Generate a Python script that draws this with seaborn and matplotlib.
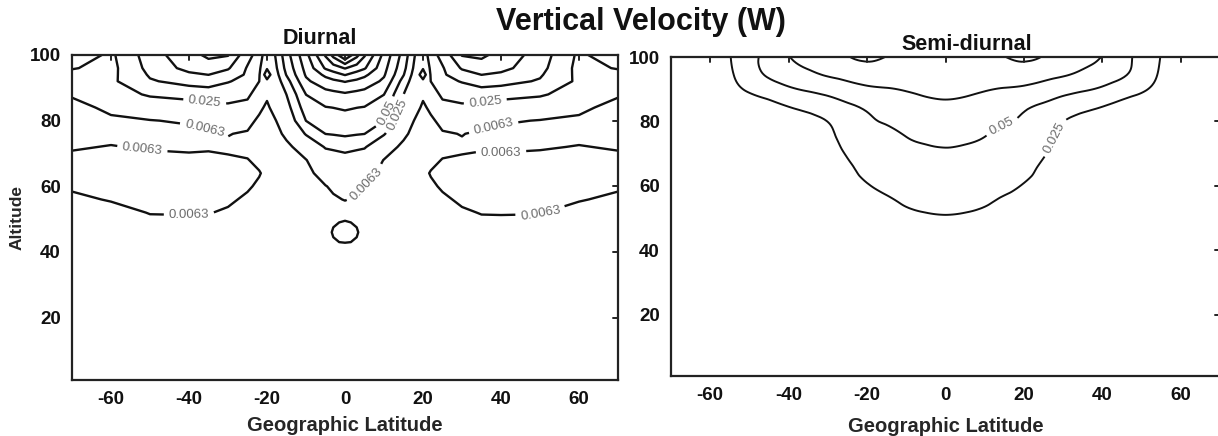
import numpy as np
import matplotlib
matplotlib.use("Agg")
import matplotlib.pyplot as plt
import matplotlib.tri as mtri
import seaborn as sns

sns.set_theme(style="white")
plt.rcParams['font.family'] = ['Liberation Sans', 'DejaVu Sans']

# ---------------- data ----------------
W_REF = 0.0063  # amplitudes below are stored as log2(W / W_REF)

# Diurnal: latitudes 0..70 (field is symmetric about the equator)
LAT_D = [0, 3, 5, 10, 15, 18, 20, 22, 25, 30, 35, 40, 50, 60, 70]
ALT_D = [0, 10, 20, 30, 40, 43, 46, 49, 52, 56, 60, 64, 68, 72, 76, 80, 84, 88, 92, 94, 96, 100]
DIURNAL_LOG2W = [
    [-3.0, -3.0, -3.0, -3.0, -3.0, -3.0, -3.0, -3.0, -3.0, -3.0, -3.0, -3.0, -3.0, -3.0, -3.0],
    [-3.0, -3.0, -3.0, -3.0, -3.0, -3.0, -3.0, -3.0, -3.0, -3.0, -3.0, -3.0, -3.0, -3.0, -3.0],
    [-3.0, -3.0, -3.0, -3.0, -3.0, -3.0, -3.0, -3.0, -3.0, -3.0, -3.0, -3.0, -3.0, -3.0, -3.0],
    [-2.5, -2.6, -2.6, -2.6, -2.6, -2.6, -2.6, -2.6, -2.6, -2.5, -2.4, -2.4, -2.4, -2.5, -2.6],
    [-1.5, -1.8, -2.0, -2.0, -2.0, -2.0, -2.0, -2.0, -2.0, -1.8, -1.6, -1.5, -1.5, -1.6, -1.8],
    [0.1, -0.1, -1.2, -1.5, -1.5, -1.5, -1.5, -1.5, -1.4, -1.2, -1.0, -0.9, -0.9, -1.1, -1.3],
    [0.6, 0.1, -0.4, -1.0, -1.2, -1.3, -1.3, -1.2, -1.0, -0.7, -0.5, -0.5, -0.5, -0.8, -1.0],
    [0.1, -0.1, -0.8, -1.0, -1.0, -1.1, -1.1, -1.0, -0.7, -0.45, -0.2, -0.15, -0.15, -0.5, -0.7],
    [-0.5, -0.6, -0.7, -0.8, -0.9, -0.9, -0.9, -0.8, -0.5, -0.15, 0.05, 0.05, 0.03, -0.25, -0.45],
    [0.05, -0.15, -0.3, -0.6, -0.7, -0.7, -0.7, -0.5, -0.2, 0.2, 0.3, 0.35, 0.3, 0.05, -0.15],
    [0.5, 0.2, -0.05, -0.5, -0.6, -0.7, -0.6, -0.2, 0.15, 0.4, 0.45, 0.5, 0.45, 0.3, 0.1],
    [1.0, 0.75, 0.6, -0.4, -0.5, -0.6, -0.3, 0.08, 0.3, 0.45, 0.4, 0.45, 0.45, 0.4, 0.3],
    [1.6, 1.35, 1.2, -0.05, -0.45, -0.6, -0.6, -0.3, 0.05, 0.15, 0.2, 0.2, 0.3, 0.35, 0.25],
    [2.3, 2.2, 2.1, 0.9, -0.4, -0.6, -0.6, -0.5, -0.35, -0.2, -0.1, -0.15, -0.1, 0.05, -0.1],
    [3.15, 3.05, 3.0, 2.1, 0.4, -0.6, -0.6, -0.55, -0.15, 0.05, -0.25, -0.35, -0.3, -0.3, -0.4],
    [3.6, 3.5, 3.4, 3.0, 1.2, -0.15, -0.5, -0.3, 0.5, 0.8, 0.6, 0.15, -0.05, -0.3, -0.6],
    [4.1, 4.0, 3.95, 3.5, 1.6, 0.6, -0.3, 0.35, 1.5, 1.8, 1.7, 1.4, 0.9, 0.4, -0.6],
    [4.85, 4.7, 4.6, 4.0, 2.0, 1.0, 0.3, 1.2, 2.3, 2.4, 2.5, 2.4, 2.2, 1.2, 0.2],
    [6.05, 5.8, 5.6, 4.8, 2.6, 1.35, 0.5, 2.0, 2.7, 3.05, 3.4, 3.3, 2.9, 1.8, 1.3],
    [7.05, 6.55, 6.2, 5.1, 3.05, 1.5, -1.2, 2.15, 2.85, 3.55, 4.0, 3.8, 3.1, 1.75, 1.7],
    [8.05, 7.5, 7.1, 5.3, 3.3, 1.7, 0.2, 2.3, 2.9, 4.1, 4.6, 4.3, 3.3, 1.7, 2.05],
    [11.0, 9.3, 8.1, 5.7, 3.6, 1.95, 1.2, 2.6, 3.3, 5.05, 5.15, 4.7, 3.5, 1.8, 2.6],
]
LEVELS_D = [0.0063, 0.025, 0.05, 0.1, 0.2, 0.4, 0.8, 1.6, 3.2, 6.4, 12.8]
LABELS_D = {0.0063: "0.0063", 0.025: "0.025", 0.05: "0.05"}

# Semi-diurnal
LAT_S = [0, 5, 10, 15, 20, 25, 30, 35, 40, 45, 50, 55, 60, 65, 70]
ALT_S = [0, 10, 20, 30, 40, 45, 50, 55, 60, 65, 70, 75, 80, 85, 90, 95, 100]
SEMIDIURNAL_LOG2W = [
    [-2.0, -2.0, -2.0, -2.0, -2.0, -2.0, -2.0, -2.0, -2.0, -2.0, -2.0, -2.0, -2.0, -2.0, -2.0],
    [-1.5, -1.5, -1.5, -1.5, -1.5, -1.5, -1.5, -1.5, -1.5, -1.5, -1.5, -1.5, -1.5, -1.5, -1.5],
    [-1.0, -1.0, -1.0, -1.0, -1.0, -1.0, -1.0, -1.0, -1.0, -1.0, -1.0, -1.0, -1.0, -1.0, -1.0],
    [-0.2, -0.2, -0.3, -0.4, -0.5, -0.6, -0.7, -0.8, -0.8, -0.8, -0.8, -0.8, -0.8, -0.8, -0.8],
    [0.5, 0.5, 0.45, 0.4, 0.3, 0.2, 0.1, 0.0, -0.1, -0.2, -0.3, -0.3, -0.3, -0.3, -0.3],
    [1.4, 1.38, 1.3, 1.2, 1.05, 0.9, 0.7, 0.5, 0.35, 0.2, 0.1, 0.05, 0.0, 0.0, -0.05],
    [1.93, 1.9, 1.82, 1.7, 1.55, 1.35, 1.1, 0.9, 0.7, 0.55, 0.45, 0.38, 0.3, 0.25, 0.15],
    [2.2, 2.15, 2.05, 1.9, 1.75, 1.5, 1.25, 1.0, 0.8, 0.65, 0.55, 0.45, 0.35, 0.3, 0.2],
    [2.43, 2.38, 2.25, 2.12, 1.95, 1.7, 1.4, 1.1, 0.9, 0.75, 0.65, 0.55, 0.45, 0.35, 0.25],
    [2.65, 2.6, 2.45, 2.3, 2.15, 1.85, 1.5, 1.2, 1.0, 0.85, 0.75, 0.6, 0.5, 0.4, 0.3],
    [2.9, 2.85, 2.72, 2.5, 2.3, 2.05, 1.6, 1.3, 1.1, 0.95, 0.85, 0.7, 0.55, 0.45, 0.35],
    [3.12, 3.08, 2.98, 2.75, 2.5, 2.22, 1.8, 1.45, 1.25, 1.1, 0.95, 0.8, 0.65, 0.5, 0.4],
    [3.4, 3.33, 3.2, 3.05, 2.85, 2.45, 2.0, 1.7, 1.5, 1.3, 1.1, 0.9, 0.7, 0.55, 0.45],
    [3.85, 3.78, 3.6, 3.35, 3.12, 2.9, 2.6, 2.3, 2.05, 1.75, 1.45, 1.15, 0.9, 0.65, 0.5],
    [4.2, 4.15, 4.05, 3.93, 3.8, 3.55, 3.3, 3.1, 2.85, 2.5, 2.15, 1.6, 1.1, 0.75, 0.55],
    [4.5, 4.5, 4.52, 4.55, 4.6, 4.4, 4.15, 3.85, 3.55, 3.15, 2.6, 1.85, 1.2, 0.8, 0.6],
    [4.7, 4.75, 4.85, 4.97, 5.12, 4.95, 4.6, 4.35, 3.95, 3.3, 2.7, 1.95, 1.2, 0.8, 0.6],
]
LEVELS_S = [0.025, 0.05, 0.1, 0.2]
LABELS_S = {0.025: "0.025", 0.05: "0.05"}

XTICKS = [-60, -40, -20, 0, 20, 40, 60]
YTICKS = [20, 40, 60, 80, 100]


def mirrored(lat_half, table):
    lat_half = np.asarray(lat_half, float)
    lat = np.concatenate([-lat_half[::-1][:-1], lat_half])
    z = np.asarray(table, float)
    z = np.concatenate([z[:, ::-1][:, :-1], z], axis=1)
    return lat, z


FS_TICK = 13.5
FS_LAB = 14.5
LINE_C = "#111111"

fig = plt.figure(figsize=(12.18, 4.36), dpi=100)
ax1 = fig.add_axes([72 / 1218, 1 - 380 / 436, (618 - 72) / 1218, (380 - 55) / 436])
ax2 = fig.add_axes([671 / 1218, 1 - 376 / 436, (1220 - 671) / 1218, (376 - 57) / 436])

panels = [
    (ax1, LAT_D, ALT_D, DIURNAL_LOG2W, LEVELS_D, LABELS_D, 1.7, False, 6.0,
     [(-36, 85.5), (-36, 77.5), (-52, 71), (-40, 52), (6, 84.5), (13, 82), (6, 60),
      (36, 85.5), (38, 78.5), (40, 70), (50, 52)]),
    (ax2, LAT_S, ALT_S, SEMIDIURNAL_LOG2W, LEVELS_S, LABELS_S, 1.4, True, 9.0,
     [(14, 79.5), (27, 75.5)]),
]

for ax, lat_h, alt, table, levels, labels, lw, smooth, xpad, label_pos in panels:
    lat, z = mirrored(lat_h, table)
    altv = np.asarray(alt, float)
    plain = [np.log2(v / W_REF) for v in levels if v not in labels]
    labelled = [np.log2(v / W_REF) for v in levels if v in labels]
    if smooth:
        gx, gy = np.meshgrid(lat, altv)
        tri = mtri.Triangulation(gx.ravel(), gy.ravel())
        refiner = mtri.UniformTriRefiner(tri)
        rtri, rz = refiner.refine_field(z.ravel(), subdiv=3)
        ax.tricontour(rtri, rz, levels=plain, colors=LINE_C, linewidths=lw)
        cs = ax.tricontour(rtri, rz, levels=labelled, colors=LINE_C, linewidths=lw)
    else:
        ax.contour(lat, altv, z, levels=plain, colors=LINE_C, linewidths=lw)
        cs = ax.contour(lat, altv, z, levels=labelled, colors=LINE_C, linewidths=lw)
    fmt = {l: labels[v] for l, v in zip(cs.levels, [v for v in levels if v in labels])}
    ax.clabel(cs, fmt=fmt, inline=True, fontsize=9.5, colors="#6a6a6a",
              manual=label_pos, inline_spacing=5)
    ax.set_xlim(-70, 70)
    ax.set_ylim(1, 100)
    ax.set_xticks(XTICKS)
    ax.set_yticks(YTICKS)
    ax.set_xticklabels([str(t) for t in XTICKS], fontweight="bold", fontsize=FS_TICK)
    ax.set_yticklabels([str(t) for t in YTICKS], fontweight="bold", fontsize=FS_TICK)
    ax.tick_params(axis="both", which="major", direction="out", length=5, width=1.4,
                   color="#222222", pad=3, labelcolor="#111111")
    for s in ax.spines.values():
        s.set_visible(True)
        s.set_color("#222222")
        s.set_linewidth(1.6)
    ax.set_xlabel("Geographic Latitude", fontweight="bold", fontsize=FS_LAB, labelpad=xpad)
    ax.set_facecolor("white")
    # inward ticks on top and right spines
    for t in YTICKS[:-1]:
        ax.plot([70, 68.6], [t, t], color="#222222", lw=1.4, clip_on=False, zorder=5)
    for t in XTICKS:
        ax.plot([t, t], [100, 98.4], color="#222222", lw=1.4, clip_on=False, zorder=5)

ax1.set_ylabel("Altitude", fontweight="bold", fontsize=12.5, labelpad=4)

fig.text(641 / 1218, 1 - 22 / 436, "Vertical Velocity (W)", ha="center", va="center",
         fontsize=22, fontweight="bold", color="#111111")
fig.text(320 / 1218, 1 - 38 / 436, "Diurnal", ha="center", va="center",
         fontsize=15.5, fontweight="bold", color="#111111")
fig.text(967 / 1218, 1 - 45 / 436, "Semi-diurnal", ha="center", va="center",
         fontsize=15.5, fontweight="bold", color="#111111")

fig.savefig("out.png", dpi=100, facecolor="white")
